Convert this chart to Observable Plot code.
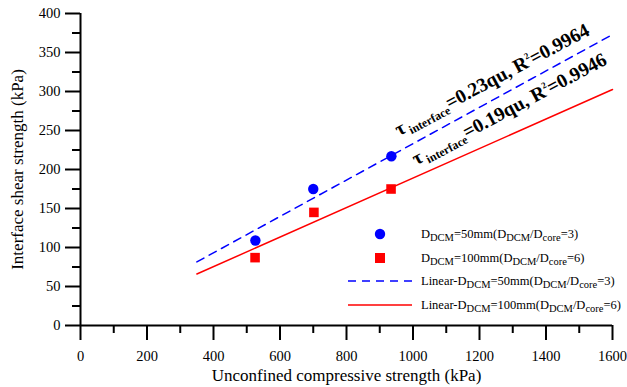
<!DOCTYPE html>
<html>
<head>
<meta charset="utf-8">
<script src="https://cdn.jsdelivr.net/npm/d3@7"></script>
<script src="https://cdn.jsdelivr.net/npm/@observablehq/plot@0.6"></script>
<style>
  body { margin: 0; background: #fff; }
  #chart { width: 627px; height: 387px; }
</style>
</head>
<body>
<div id="chart"></div>
<script>
// ---- data ----
const ucs50 = [526, 700, 935];          // D_DCM = 50 mm, unconfined compressive strength (kPa)
const tau50 = [109, 175, 217];          // interface shear strength (kPa)
const ucs100 = [525, 702, 934];         // D_DCM = 100 mm
const tau100 = [87, 145, 175];
const fitX = [350, 1600];               // extent of the fitted lines
const fit50 = [81.5, 373];              // τ = 0.23 qu
const fit100 = [66, 302.5];             // τ = 0.19 qu
const xMajor = [0, 200, 400, 600, 800, 1000, 1200, 1400, 1600];
const xMinor = [100, 300, 500, 700, 900, 1100, 1300, 1500];
const yMajor = [0, 50, 100, 150, 200, 250, 300, 350, 400];
const yMinor = [25, 75, 125, 175, 225, 275, 325, 375];
const eq50 = "τ_{ interface}=0.23qu, R^{2}=0.9964";
const eq100 = "τ_{ interface}=0.19qu, R^{2}=0.9946";
const eqAt50 = 958;   // x position along the fit where the label starts
const eqAt100 = 1010;
const legendLabels = [
  "D_{DCM}=50mm(D_{DCM}/D_{core}=3)",
  "D_{DCM}=100mm(D_{DCM}/D_{core}=6)",
  "Linear-D_{DCM}=50mm(D_{DCM}/D_{core}=3)",
  "Linear-D_{DCM}=100mm(D_{DCM}/D_{core}=6)"
];
const xTitle = "Unconfined compressive strength (kPa)";
const yTitle = "Interface shear strength (kPa)";

const BLUE = "#0000ff", RED = "#ff0000";
const FONT = "'Liberation Serif', 'Times New Roman', serif";

const pts50 = ucs50.map((x, i) => ({x, y: tau50[i]}));
const pts100 = ucs100.map((x, i) => ({x, y: tau100[i]}));
const line50 = fitX.map((x, i) => ({x, y: fit50[i]}));
const line100 = fitX.map((x, i) => ({x, y: fit100[i]}));
const onLine = (x, ys) => ys[0] + (x - fitX[0]) * (ys[1] - ys[0]) / (fitX[1] - fitX[0]);

const plot = Plot.plot({
  width: 627, height: 387,
  marginLeft: 80, marginRight: 15, marginTop: 13, marginBottom: 62,
  x: {domain: [0, 1600]},
  y: {domain: [0, 400]},
  style: {fontFamily: FONT, fontSize: "14.5px", color: "#000", background: "#fff", overflow: "visible"},
  marks: [
    Plot.line(line50, {x: "x", y: "y", stroke: BLUE, strokeWidth: 1.5, strokeDasharray: "8,6"}),
    Plot.line(line100, {x: "x", y: "y", stroke: RED, strokeWidth: 1.5}),
    Plot.dot(pts50, {x: "x", y: "y", r: 5.2, fill: BLUE, stroke: "none"}),
    Plot.dot(pts100, {x: "x", y: "y", r: 5.4, symbol: "square", fill: RED, stroke: "none"}),
    Plot.text([eq50], {x: () => eqAt50, y: () => onLine(eqAt50, fit50), text: d => d, rotate: -28,
      textAnchor: "start", lineAnchor: "bottom", dy: -15, fontSize: 19.5, fontWeight: "bold", fill: "#000"}),
    Plot.text([eq100], {x: () => eqAt100, y: () => onLine(eqAt100, fit100), text: d => d, rotate: -28,
      textAnchor: "start", lineAnchor: "bottom", dy: -11, fontSize: 19.5, fontWeight: "bold", fill: "#000"}),
    Plot.axisX({ticks: xMajor, tickSize: 15, tickPadding: 10, strokeWidth: 2, tickFormat: d => String(d), label: null, fontSize: 14.5}),
    Plot.axisX({ticks: xMinor, tickSize: 8, strokeWidth: 2, tickFormat: () => "", label: null}),
    Plot.axisY({ticks: yMajor, tickSize: 15, tickPadding: 5, strokeWidth: 2, tickFormat: d => String(d), label: null, fontSize: 14.5}),
    Plot.axisY({ticks: yMinor, tickSize: 8, strokeWidth: 2, tickFormat: () => "", label: null}),
    Plot.ruleX([0], {strokeWidth: 2}),
    Plot.ruleY([0], {strokeWidth: 2}),
    Plot.text([xTitle], {frameAnchor: "bottom", dy: 50, text: d => d, fontSize: 17, textAnchor: "middle", lineAnchor: "middle"}),
    Plot.text([yTitle], {frameAnchor: "left", dx: -63, text: d => d, fontSize: 17, rotate: -90, textAnchor: "middle", lineAnchor: "middle"})
  ]
});

const svgNS = "http://www.w3.org/2000/svg";
function richify(el, subSize, subShift, supSize, supShift) {
  const s = el.textContent;
  const parts = s.split(/(_\{[^}]*\}|\^\{[^}]*\})/).filter(p => p !== "");
  el.textContent = "";
  let cur = 0;
  for (const p of parts) {
    const t = document.createElementNS(svgNS, "tspan");
    let target = 0, txt = p, size = null;
    if (p.startsWith("_{")) { target = subShift; txt = p.slice(2, -1); size = subSize; }
    else if (p.startsWith("^{")) { target = -supShift; txt = p.slice(2, -1); size = supSize; }
    if (target - cur !== 0) t.setAttribute("dy", target - cur);
    cur = target;
    if (size) t.setAttribute("font-size", size);
    t.textContent = txt;
    el.appendChild(t);
  }
}

// equation labels
d3.select(plot).selectAll("text").each(function() {
  if (this.textContent.includes("_{") || this.textContent.includes("^{")) richify(this, 12, 4, 9, 8);
});

// legend (inside the frame)
const lg = d3.select(plot).append("g").attr("font-family", FONT).attr("font-size", 12.5).attr("text-anchor", "start");
const rowY = [234, 258, 281, 305];
const symX = 380, lineX1 = 348, lineX2 = 412, textX = 421;
lg.append("circle").attr("cx", symX).attr("cy", rowY[0]).attr("r", 5.2).attr("fill", BLUE);
lg.append("rect").attr("x", symX - 5).attr("y", rowY[1] - 5).attr("width", 10).attr("height", 10).attr("fill", RED);
lg.append("line").attr("x1", lineX1).attr("x2", lineX2).attr("y1", rowY[2]).attr("y2", rowY[2])
  .attr("stroke", BLUE).attr("stroke-width", 1.5).attr("stroke-dasharray", "8,6");
lg.append("line").attr("x1", lineX1).attr("x2", lineX2).attr("y1", rowY[3]).attr("y2", rowY[3])
  .attr("stroke", RED).attr("stroke-width", 1.5);
legendLabels.forEach((lab, i) => {
  const t = lg.append("text").attr("x", textX).attr("y", rowY[i] + 3.5).attr("fill", "#000").text(lab);
  richify(t.node(), 10.5, 3, 9, 5);
});

document.getElementById("chart").appendChild(plot);
</script>
</body>
</html>
